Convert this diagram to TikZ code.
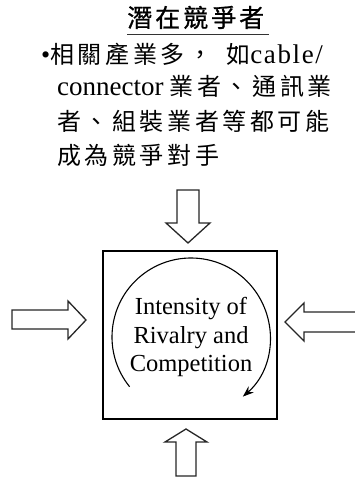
\documentclass[tikz,border=0pt]{standalone}
\usepackage{fontspec}
\setmainfont{Liberation Serif}
\newfontfamily\cjk[LetterSpace=15]{Noto Sans CJK TC}
\newfontfamily\cjktitle[LetterSpace=12,FakeBold=0.8]{Noto Sans CJK TC}
\newfontfamily\latsp[LetterSpace=6]{Liberation Serif}
\usetikzlibrary{arrows.meta}
\tikzset{
  blockarrow/.style={draw=black!85, line width=1.3pt, line join=miter, fill=white},
  bodyline/.style={anchor=base west, inner sep=0pt, font=\fontsize{24}{24}\selectfont},
  engline/.style={anchor=base, inner sep=0pt, font=\fontsize{24.5}{28}\selectfont},
}
\begin{document}
\begin{tikzpicture}[x=1pt, y=-1pt]
\useasboundingbox (0,0) rectangle (355,478);
% title
\node[anchor=base west, inner sep=0pt, font=\fontsize{25}{25}\selectfont] (title) at (127,27) {\cjktitle 潛在競爭者};
\draw[line width=0.8pt, black!80] (127,34) coordinate (ul1) -- (269,34) coordinate (ul2);
% body
\node[bodyline] (b1) at (41,64) {{\fontsize{26}{26}\selectfont •}\cjk 相關產業多，\hspace{14pt}如{\fontsize{27}{27}\latsp cable/}};
\node[bodyline] (b2) at (57,96) {{\fontsize{27}{27}\selectfont connector} \cjk 業者、通訊業};
\node[bodyline] (b3) at (57,131) {\cjk 者、組裝業者等都可能};
\node[bodyline] (b4) at (57,165) {\cjk 成為競爭對手};
% central box
\node[draw, line width=1.5pt, minimum width=174pt, minimum height=168pt, inner sep=0pt] (box) at (190,335) {};
\node[engline] (t1) at (191,314) {Intensity of};
\node[engline] (t2) at (191,343) {Rivalry and};
\node[engline] (t3) at (191,371) {Competition};
\coordinate (cc) at (191,337);
\draw[line width=1.1pt, -{Stealth[length=11pt,width=8pt]}] (cc) ++(141:79) arc[start angle=-219, end angle=49, radius=79];
% top arrow
\draw[blockarrow] (177,190) -- (199,190) -- (199,223) -- (210,223) -- (188,243) -- (166,223) -- (177,223) -- cycle;
% bottom arrow
\draw[blockarrow] (176,476) -- (176,442) -- (165,442) -- (186,429) -- (207,442) -- (196,442) -- (196,476) -- cycle;
% left arrow
\draw[blockarrow] (12,310) -- (68,310) -- (68,301) -- (86,320) -- (68,339) -- (68,329) -- (12,329) -- cycle;
% right arrow
\draw[blockarrow] (356,312) -- (304,312) -- (304,303) -- (285,322) -- (304,341) -- (304,332) -- (356,332);
\end{tikzpicture}
\end{document}
